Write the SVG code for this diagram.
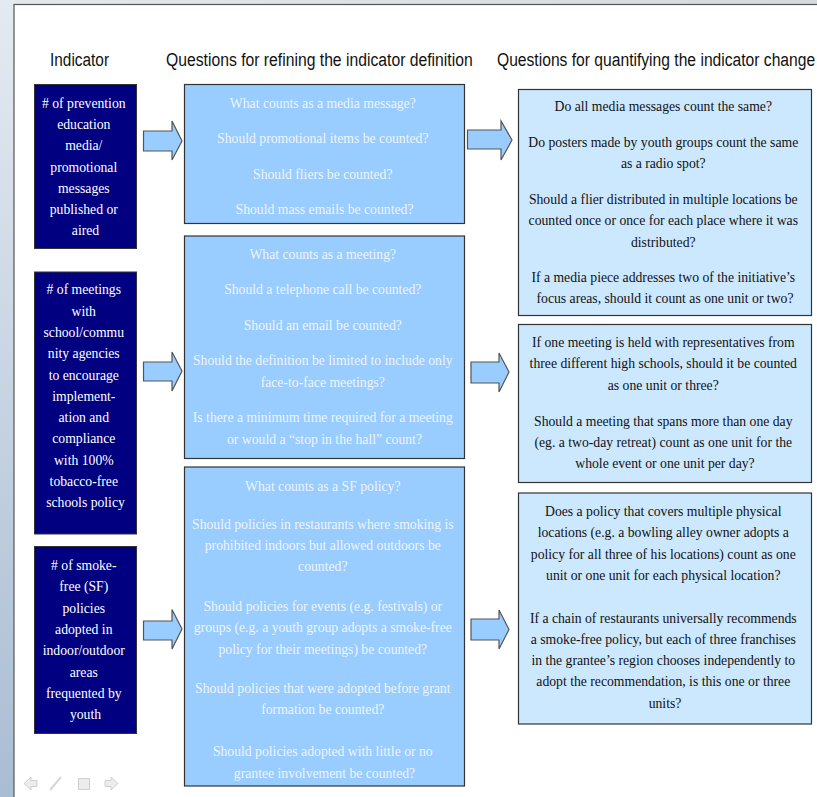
<svg xmlns="http://www.w3.org/2000/svg" width="817" height="797" viewBox="0 0 817 797">
<defs>
<linearGradient id="side" x1="0" y1="0" x2="0" y2="1">
<stop offset="0" stop-color="#e4eaf1"/>
<stop offset="1" stop-color="#a9bdd3"/>
</linearGradient>
<linearGradient id="topg" x1="0" y1="0" x2="1" y2="0">
<stop offset="0" stop-color="#e2e8ee"/>
<stop offset="1" stop-color="#d3d9df"/>
</linearGradient>
<style>
.hdr{font-family:"Liberation Sans",Arial,sans-serif;font-size:19px;fill:#111}
.ind rect{fill:#000080;stroke:#333;stroke-width:1}
.ind text{font-family:"Liberation Serif","Times New Roman",serif;font-size:13.7px;fill:#ffffff;text-anchor:middle}
.mid rect{fill:#99ccff;stroke:#333;stroke-width:1.2}
.mid text{font-family:"Liberation Serif","Times New Roman",serif;font-size:13.7px;fill:#eef4fc;text-anchor:middle}
.rt rect{fill:#cce8ff;stroke:#333;stroke-width:1.2}
.rt text{font-family:"Liberation Serif","Times New Roman",serif;font-size:13.7px;fill:#111;text-anchor:middle}
.arr{fill:#99ccff;stroke:#555;stroke-width:1.2;stroke-linejoin:miter}
.nav{fill:#ececec;stroke:#cfcfcf;stroke-width:1}
</style>
</defs>
<rect x="0" y="0" width="817" height="797" fill="url(#topg)"/>
<rect x="0" y="0" width="14" height="797" fill="url(#side)"/>
<rect x="14" y="4.5" width="810" height="800" fill="#ffffff" stroke="#555" stroke-width="1.2"/>

<g id="headers">
<text class="hdr" transform="translate(50,66) scale(0.82,1)" x="0" y="0" textLength="72" lengthAdjust="spacingAndGlyphs">Indicator</text>
<text class="hdr" transform="translate(166,66) scale(0.82,1)" x="0" y="0" textLength="374" lengthAdjust="spacingAndGlyphs">Questions for refining the indicator definition</text>
<text class="hdr" transform="translate(497,66) scale(0.82,1)" x="0" y="0" textLength="388" lengthAdjust="spacingAndGlyphs">Questions for quantifying the indicator change</text>
</g>

<g id="ind1" class="ind">
<rect x="34.5" y="84.5" width="102" height="164"/>
<text x="85.5" y="108">
<tspan x="85.5" y="108"># of prevention</tspan>
<tspan x="85.5" y="129.2">education</tspan>
<tspan x="85.5" y="150.4">media/</tspan>
<tspan x="85.5" y="171.6">promotional</tspan>
<tspan x="85.5" y="192.8">messages</tspan>
<tspan x="85.5" y="214">published or</tspan>
<tspan x="85.5" y="235.2">aired</tspan>
</text>
</g>

<g id="ind2" class="ind">
<rect x="34.5" y="272" width="102" height="262"/>
<text x="85.5" y="294.3">
<tspan x="85.5" y="294.3"># of meetings</tspan>
<tspan x="85.5" y="315.6">with</tspan>
<tspan x="85.5" y="336.9">school/commu</tspan>
<tspan x="85.5" y="358.2">nity agencies</tspan>
<tspan x="85.5" y="379.5">to encourage</tspan>
<tspan x="85.5" y="400.8">implement-</tspan>
<tspan x="85.5" y="422.1">ation and</tspan>
<tspan x="85.5" y="443.4">compliance</tspan>
<tspan x="85.5" y="464.7">with 100%</tspan>
<tspan x="85.5" y="486">tobacco-free</tspan>
<tspan x="85.5" y="507.3">schools policy</tspan>
</text>
</g>

<g id="ind3" class="ind">
<rect x="34.5" y="546.5" width="102" height="187"/>
<text x="85.5" y="570">
<tspan x="85.5" y="570"># of smoke-</tspan>
<tspan x="85.5" y="591.3">free (SF)</tspan>
<tspan x="85.5" y="612.6">policies</tspan>
<tspan x="85.5" y="633.9">adopted in</tspan>
<tspan x="85.5" y="655.2">indoor/outdoor</tspan>
<tspan x="85.5" y="676.5">areas</tspan>
<tspan x="85.5" y="697.8">frequented by</tspan>
<tspan x="85.5" y="719.1">youth</tspan>
</text>
</g>

<g id="mid1" class="mid">
<rect x="184.5" y="84.5" width="280" height="139"/>
<text x="324.5" y="107.5">
<tspan x="324.5" y="107.5">What counts as a media message?</tspan>
<tspan x="324.5" y="143">Should promotional items be counted?</tspan>
<tspan x="324.5" y="178.5">Should fliers be counted?</tspan>
<tspan x="324.5" y="214">Should mass emails be counted?</tspan>
</text>
</g>

<g id="mid2" class="mid">
<rect x="184.5" y="236" width="280" height="222.5"/>
<text x="324.5" y="258.5">
<tspan x="324.5" y="258.5">What counts as a meeting?</tspan>
<tspan x="324.5" y="294">Should a telephone call be counted?</tspan>
<tspan x="324.5" y="329.5">Should an email be counted?</tspan>
<tspan x="324.5" y="365">Should the definition be limited to include only</tspan>
<tspan x="324.5" y="386.5">face-to-face meetings?</tspan>
<tspan x="324.5" y="422.3">Is there a minimum time required for a meeting</tspan>
<tspan x="324.5" y="443.6">or would a “stop in the hall” count?</tspan>
</text>
</g>

<g id="mid3" class="mid">
<rect x="184.5" y="467" width="280" height="319"/>
<text x="324.5" y="490.5">
<tspan x="324.5" y="490.5">What counts as a SF policy?</tspan>
<tspan x="324.5" y="528.5">Should policies in restaurants where smoking is</tspan>
<tspan x="324.5" y="550">prohibited indoors but allowed outdoors be</tspan>
<tspan x="324.5" y="571.3">counted?</tspan>
<tspan x="324.5" y="610.8">Should policies for events (e.g. festivals) or</tspan>
<tspan x="324.5" y="632.3">groups (e.g. a youth group adopts a smoke-free</tspan>
<tspan x="324.5" y="653.8">policy for their meetings) be counted?</tspan>
<tspan x="324.5" y="692.5">Should policies that were adopted before grant</tspan>
<tspan x="324.5" y="714">formation be counted?</tspan>
<tspan x="324.5" y="756.3">Should policies adopted with little or no</tspan>
<tspan x="324.5" y="777.6">grantee involvement be counted?</tspan>
</text>
</g>

<g id="rt1" class="rt">
<rect x="518.5" y="89.5" width="293" height="226"/>
<text x="665" y="110.5">
<tspan x="665" y="110.5">Do all media messages count the same?</tspan>
<tspan x="665" y="147">Do posters made by youth groups count the same</tspan>
<tspan x="665" y="168.3">as a radio spot?</tspan>
<tspan x="665" y="204">Should a flier distributed in multiple locations be</tspan>
<tspan x="665" y="225.3">counted once or once for each place where it was</tspan>
<tspan x="665" y="246.6">distributed?</tspan>
<tspan x="665" y="282">If a media piece addresses two of the initiative’s</tspan>
<tspan x="665" y="303.3">focus areas, should it count as one unit or two?</tspan>
</text>
</g>

<g id="rt2" class="rt">
<rect x="518.5" y="324.5" width="293" height="158"/>
<text x="665" y="347">
<tspan x="665" y="347">If one meeting is held with representatives from</tspan>
<tspan x="665" y="368.3">three different high schools, should it be counted</tspan>
<tspan x="665" y="389.6">as one unit or three?</tspan>
<tspan x="665" y="425.5">Should a meeting that spans more than one day</tspan>
<tspan x="665" y="446.8">(eg. a two-day retreat) count as one unit for the</tspan>
<tspan x="665" y="468.1">whole event or one unit per day?</tspan>
</text>
</g>

<g id="rt3" class="rt">
<rect x="518.5" y="493" width="293" height="231"/>
<text x="665" y="516">
<tspan x="665" y="516">Does a policy that covers multiple physical</tspan>
<tspan x="665" y="537.3">locations (e.g. a bowling alley owner adopts a</tspan>
<tspan x="665" y="558.6">policy for all three of his locations) count as one</tspan>
<tspan x="665" y="579.9">unit or one unit for each physical location?</tspan>
<tspan x="665" y="622.5">If a chain of restaurants universally recommends</tspan>
<tspan x="665" y="643.8">a smoke-free policy, but each of three franchises</tspan>
<tspan x="665" y="665.1">in the grantee’s region chooses independently to</tspan>
<tspan x="665" y="686.4">adopt the recommendation, is this one or three</tspan>
<tspan x="665" y="707.7">units?</tspan>
</text>
</g>

<g id="connectors">
<polygon class="arr" points="143.5,131 172,131 172,121 182,141 172,160 172,151 143.5,151"/>
<polygon class="arr" points="143.5,362 172,362 172,352 182,371 172,391 172,381 143.5,381"/>
<polygon class="arr" points="143.5,621 172,621 172,609.5 182,629 172,649 172,640 143.5,640"/>
<polygon class="arr" points="467.5,130 501,130 501,121 512,140 501,160 501,149 467.5,149"/>
<polygon class="arr" points="471,362 499,362 499,353 509,372 499,392 499,383 471,383"/>
<polygon class="arr" points="471,619 499,619 499,610 509,629.5 499,649 499,640 471,640"/>
</g>

<g id="nav">
<polygon class="nav" points="24,783.5 31,777 31,780.5 37,780.5 37,786.5 31,786.5 31,790"/>
<path d="M50,790 L61,777" stroke="#d6d6d6" stroke-width="2" fill="none"/>
<rect class="nav" x="78.5" y="778.5" width="11" height="11"/>
<polygon class="nav" points="118,783.5 111,777 111,780.5 105,780.5 105,786.5 111,786.5 111,790"/>
</g>
</svg>
